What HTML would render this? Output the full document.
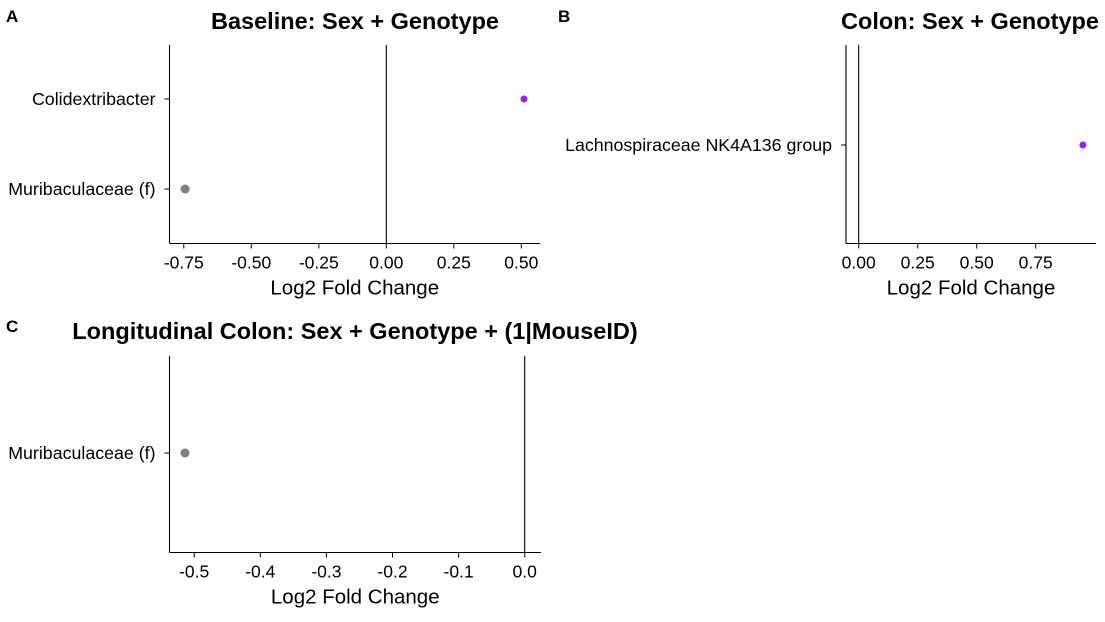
<!DOCTYPE html>
<html><head><meta charset="utf-8"><style>
body{margin:0;background:#fff;width:1105px;height:617px;overflow:hidden}
svg{font-family:"Liberation Sans",Arial,sans-serif}
</style></head><body>
<svg id="chart" width="1105" height="617"></svg>
<script>
const panelATaxa=["Colidextribacter","Muribaculaceae (f)"];
const panelAValues=[0.51,-0.745];
const panelATicks=[-0.75,-0.5,-0.25,0,0.25,0.5];
const panelATickLabels=["-0.75","-0.50","-0.25","0.00","0.25","0.50"];
const panelBTaxa=["Lachnospiraceae NK4A136 group"];
const panelBValues=[0.95];
const panelBTicks=[0,0.25,0.5,0.75];
const panelBTickLabels=["0.00","0.25","0.50","0.75"];
const panelCTaxa=["Muribaculaceae (f)"];
const panelCValues=[-0.514];
const panelCTicks=[-0.5,-0.4,-0.3,-0.2,-0.1,0];
const panelCTickLabels=["-0.5","-0.4","-0.3","-0.2","-0.1","0.0"];
const panelAColors=["#a020f0","#808080"];
const panelBColors=["#a020f0"];
const panelCColors=["#808080"];

const svg=document.getElementById('chart');
const NS="http://www.w3.org/2000/svg";
function mk(tag,attrs,parent,text){const e=document.createElementNS(NS,tag);for(const k in attrs)e.setAttribute(k,attrs[k]);if(text!==undefined)e.textContent=text;(parent||svg).appendChild(e);return e;}

function panel(cfg){
  const g=mk('g',{});
  
  
  const x=v=>cfg.x0+v*cfg.scale;
  const y=i=>cfg.ys[i];
  const t=mk('text',{x:cfg.titleX,y:cfg.titleY,'font-size':23.5,'font-weight':'bold','text-anchor':'middle'},g,cfg.title);
  
  const l=mk('text',{x:cfg.letterX,y:cfg.letterY,'font-size':17,'font-weight':'bold'},g,cfg.letter);
  
  const ya=mk('line',{x1:cfg.left,x2:cfg.left,y1:cfg.top,y2:cfg.bottom,stroke:'#000','stroke-width':1.1},g);
  
  const xa=mk('line',{x1:cfg.left,x2:cfg.right,y1:cfg.bottom,y2:cfg.bottom,stroke:'#000','stroke-width':1.1},g);
  
  const z=mk('line',{x1:x(0),x2:x(0),y1:cfg.top,y2:cfg.bottom,stroke:'#000','stroke-width':1.1},g);
  
  cfg.ticks.forEach((v,i)=>{
    mk('line',{x1:x(v),x2:x(v),y1:cfg.bottom,y2:cfg.bottom+5,stroke:'#000'},g);
    const tl=mk('text',{x:x(v),y:cfg.bottom+25,'font-size':17.5,'text-anchor':'middle'},g,cfg.tickLabels[i]);
    
  });
  const at=mk('text',{x:(cfg.left+cfg.right)/2,y:cfg.bottom+51,'font-size':20.5,'text-anchor':'middle'},g,'Log2 Fold Change');
  
  cfg.taxa.forEach((name,i)=>{
    mk('line',{x1:cfg.left-5,x2:cfg.left,y1:y(i),y2:y(i),stroke:'#000'},g);
    const yl=mk('text',{x:cfg.left-14,y:y(i)+6,'font-size':17.8,'text-anchor':'end'},g,name);
    
    const p=mk('circle',{cx:x(cfg.values[i]),cy:y(i),r:cfg.colors[i]==='#808080'?4.5:3.5,fill:cfg.colors[i]},g);
    
  });
}
panel({name:'panel-a',title:'Baseline: Sex + Genotype',titleX:355,titleY:29,letter:'A',letterX:6,letterY:22,
  left:169.5,right:540,top:45,bottom:243.5,x0:386.3,scale:270,ys:[99,189],
  ticks:panelATicks,tickLabels:panelATickLabels,taxa:panelATaxa,values:panelAValues,colors:panelAColors});
panel({name:'panel-b',title:'Colon: Sex + Genotype',titleX:970,titleY:29,letter:'B',letterX:558,letterY:22,
  left:846,right:1096,top:45,bottom:243.5,x0:858.7,scale:236,ys:[145],
  ticks:panelBTicks,tickLabels:panelBTickLabels,taxa:panelBTaxa,values:panelBValues,colors:panelBColors});
panel({name:'panel-c',title:'Longitudinal Colon: Sex + Genotype + (1|MouseID)',titleX:355,titleY:339,letter:'C',letterX:6,letterY:332,
  left:169.5,right:541,top:356,bottom:552.5,x0:524.7,scale:661,ys:[453],
  ticks:panelCTicks,tickLabels:panelCTickLabels,taxa:panelCTaxa,values:panelCValues,colors:panelCColors});
</script>
</body></html>
